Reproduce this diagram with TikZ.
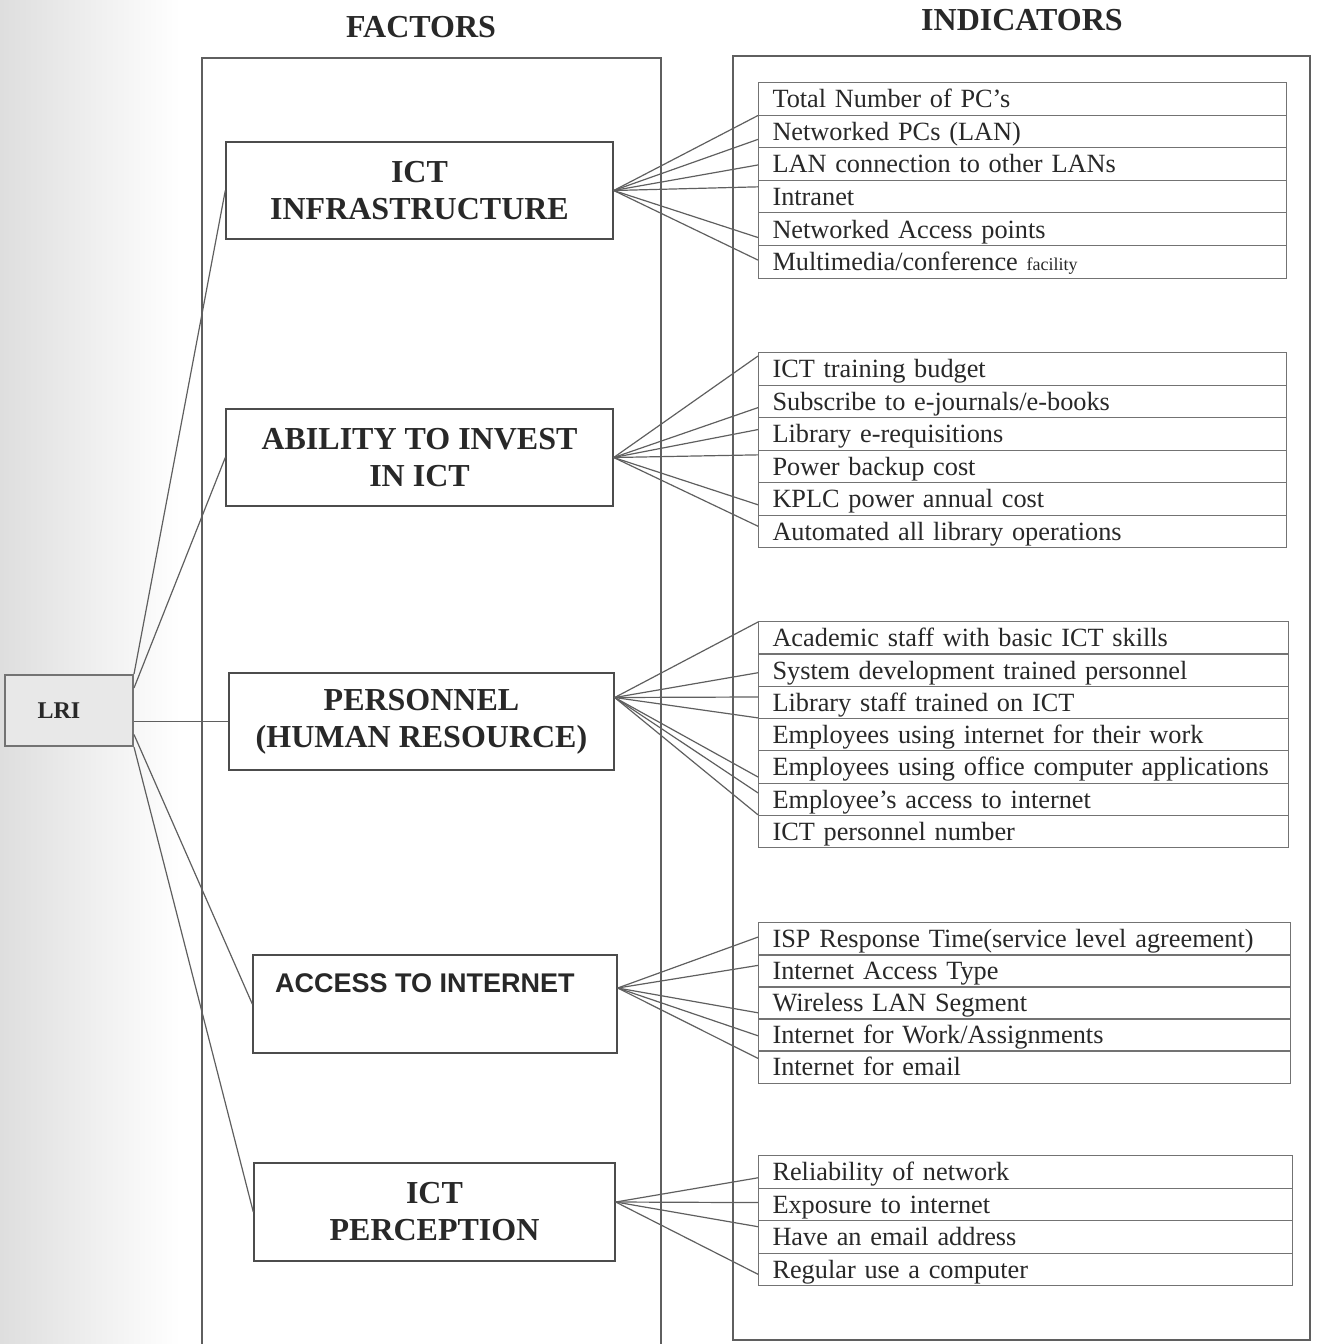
\documentclass[tikz,border=0pt]{standalone}
\usepackage{fontspec}
\setmainfont{Liberation Serif}
\newfontfamily\arialfont{Liberation Sans}
\usetikzlibrary{calc}
\definecolor{inkc}{RGB}{40,40,40}
\definecolor{linec}{RGB}{95,95,95}
\begin{document}
\begin{tikzpicture}[x=1pt,y=-1pt,
  ln/.style={draw=linec, line width=1.2pt},
  colbox/.style={draw=linec, line width=1.2pt},
  fbox/.style={draw=black!70, line width=1.4pt, minimum height=97pt, align=center,
     font=\fontsize{32}{37}\selectfont\bfseries, text=inkc, inner sep=0pt},
  ind/.style={draw=black!55, line width=1pt, anchor=north west, minimum height=32.5pt,
     inner xsep=14pt, inner ysep=0pt, align=left, text height=20pt, text depth=2pt,
     font=\fontsize{26.3}{27}\selectfont, text=inkc},
  head/.style={font=\fontsize{32}{33}\selectfont\bfseries, text=inkc}
]
\useasboundingbox (0,0) rectangle (1318,1344);
\shade[left color=black!13, right color=white] (0,0) rectangle (180,1344);

% headers
\node[head] (hf) at (421,27) {FACTORS};
\node[head] (hi) at (1022,20) {INDICATORS};

% columns
\draw[colbox] (202,1346) -- (202,58) -- (661,58) -- (661,1346);
\draw[colbox] (733,56) rectangle (1310,1340);

% LRI
\node[draw=black!55, line width=2pt, fill=black!9, minimum width=128pt, minimum height=71pt,
      font=\fontsize{24}{26}\selectfont\bfseries, text=inkc, inner sep=0pt] (lri) at (69,710.5) {\hspace*{-20pt}LRI};

% factor boxes
\node[fbox, minimum width=387pt] (b1) at (419.5,190.5) {ICT\\INFRASTRUCTURE};
\node[fbox, minimum width=387pt] (b2) at (419.5,457.5) {ABILITY TO INVEST\\IN ICT};
\node[fbox, minimum width=385pt] (b3) at (421.5,721.5) {PERSONNEL\\(HUMAN RESOURCE)};
\node[fbox, minimum width=364pt, minimum height=98pt] (b4) at (435,1004) {};
\node[font=\arialfont\fontsize{27}{29}\selectfont\bfseries, text=inkc, anchor=west, inner sep=0pt] (b4t) at (275,983) {ACCESS TO INTERNET};
\node[fbox, minimum width=361pt, minimum height=98pt] (b5) at (434.5,1212) {ICT\\PERCEPTION};

% indicator groups
\foreach \t [count=\i] in {{Total Number of PC’s},{Networked PCs (LAN)},{LAN connection to other LANs},{Intranet},{Networked Access points},{Multimedia/conference {\fontsize{18}{20}\selectfont facility}}}
  \node[ind, text width=500pt] (g1r\i) at (758,{82+(\i-1)*32.6}) {\t};
\foreach \t [count=\i] in {{ICT training budget},{Subscribe to e-journals/e-books},{Library e-requisitions},{Power backup cost},{KPLC power annual cost},{Automated all library operations}}
  \node[ind, text width=500pt] (g2r\i) at (758,{352+(\i-1)*32.5}) {\t};
\foreach \t [count=\i] in {{Academic staff with basic ICT skills},{System development trained personnel},{Library staff trained on ICT},{Employees using internet for their work},{Employees using office computer applications},{Employee’s access to internet},{ICT personnel number}}
  \node[ind, text width=502pt] (g3r\i) at (758,{621+(\i-1)*32.3}) {\t};
\foreach \t [count=\i] in {{ISP Response Time(service level agreement)},{Internet Access Type},{Wireless LAN Segment},{Internet for Work/Assignments},{Internet for email}}
  \node[ind, text width=504pt] (g4r\i) at (758,{922+(\i-1)*32}) {\t};
\foreach \t [count=\i] in {{Reliability of network},{Exposure to internet},{Have an email address},{Regular use a computer}}
  \node[ind, text width=506pt] (g5r\i) at (758,{1155+(\i-1)*32.5}) {\t};

% LRI connectors
\draw[ln] (lri.north east) -- (b1.west);
\draw[ln] ([yshift=-14pt]lri.north east) -- (b2.west);
\draw[ln] (lri.east |- b3.west) -- (b3.west);
\draw[ln] ([yshift=-24pt]lri.east) -- (b4.west);
\draw[ln] (lri.south east) -- (b5.west);

% fans
\foreach \r/\f in {1/1.0,2/0.74,3/0.53,4/0.21,5/0.75,6/0.45}
  \draw[ln] (b1.east) -- ($(g1r\r.north west)!\f!(g1r\r.south west)$);
\foreach \r/\f in {1/0.12,2/0.69,3/0.375,4/0.16,5/0.68,6/0.35}
  \draw[ln] (b2.east) -- ($(g2r\r.north west)!\f!(g2r\r.south west)$);
\foreach \r/\f in {1/0.03,2/0.58,3/0.34,4/0.0,5/0.8,6/0.31,7/0.0}
  \draw[ln] ([yshift=24pt]b3.east) -- ($(g3r\r.north west)!\f!(g3r\r.south west)$);
\foreach \r/\f in {1/0.45,2/0.34,3/0.8,4/0.53,5/0.25}
  \draw[ln] ([yshift=16pt]b4.east) -- ($(g4r\r.north west)!\f!(g4r\r.south west)$);
\foreach \r/\f in {1/0.68,2/0.45,3/0.2,4/0.65}
  \draw[ln] ([yshift=10pt]b5.east) -- ($(g5r\r.north west)!\f!(g5r\r.south west)$);
\end{tikzpicture}
\end{document}
